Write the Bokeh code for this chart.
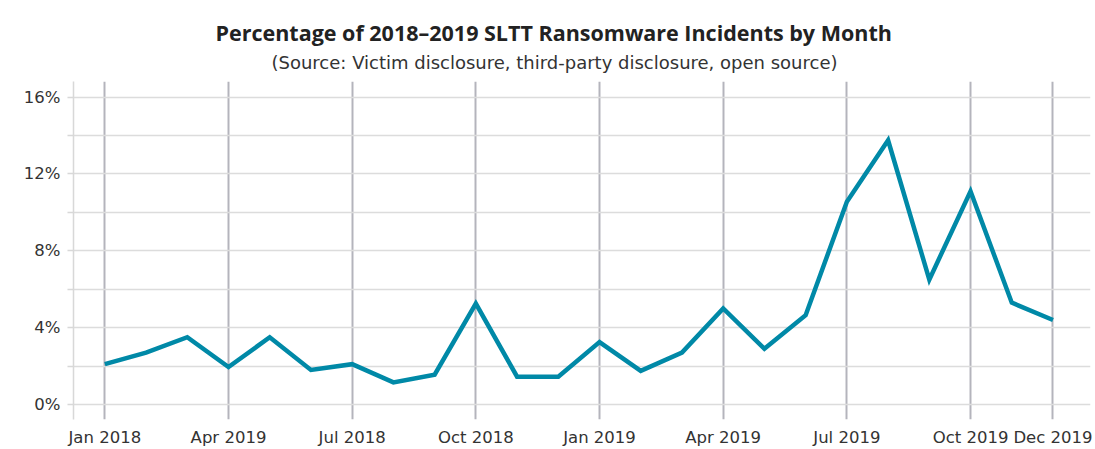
from bokeh.plotting import figure
from bokeh.models import FixedTicker, PrintfTickFormatter, Range1d, Title
from bokeh.embed import file_html
from bokeh.resources import INLINE

# ---- data ----
months = ["Jan 2018", "Feb 2018", "Mar 2018", "Apr 2018", "May 2018", "Jun 2018",
          "Jul 2018", "Aug 2018", "Sep 2018", "Oct 2018", "Nov 2018", "Dec 2018",
          "Jan 2019", "Feb 2019", "Mar 2019", "Apr 2019", "May 2019", "Jun 2019",
          "Jul 2019", "Aug 2019", "Sep 2019", "Oct 2019", "Nov 2019", "Dec 2019"]
pct = [2.1, 2.7, 3.5, 1.95, 3.5, 1.8, 2.1, 1.15, 1.55, 5.25, 1.45, 1.45,
       3.25, 1.75, 2.7, 5.0, 2.9, 4.65, 10.55, 13.75, 6.5, 11.1, 5.3, 4.4]
tick_idx = [0, 3, 6, 9, 12, 15, 18, 21, 23]
tick_labels = ["Jan 2018", "Apr 2019", "Jul 2018", "Oct 2018", "Jan 2019",
               "Apr 2019", "Jul 2019", "Oct 2019", "Dec 2019"]
y_major = [0, 4, 8, 12, 16]
y_minor = [2, 6, 10, 14]

title_text = "Percentage of 2018\u20132019 SLTT Ransomware Incidents by Month"
subtitle_text = "(Source: Victim disclosure, third-party disclosure, open source)"

TFONT = "Open Sans"
LFONT = "DejaVu Sans"
x = list(range(len(months)))

p = figure(width=1095, height=449, output_backend="svg", toolbar_location=None,
           x_range=Range1d(-0.76, 23.91), y_range=Range1d(-0.78, 16.81),
           min_border_left=73, min_border_right=5, min_border_top=81,
           min_border_bottom=29, background_fill_color="white",
           border_fill_color="white", outline_line_color=None)

p.add_layout(Title(text=subtitle_text, align="left", text_font=LFONT,
                   text_font_size="18px", text_font_style="normal",
                   text_color="#333333", standoff=17, offset=198), "above")
p.add_layout(Title(text=title_text, align="left", text_font=TFONT,
                   text_font_size="21.5px", text_font_style="bold",
                   text_color="#222222", standoff=-11, offset=142), "above")

p.line(x, pct, line_color="#0089a7", line_width=4.5, line_join="miter")

# x axis
p.xaxis.ticker = FixedTicker(ticks=tick_idx)
p.xaxis.major_label_overrides = {i: l for i, l in zip(tick_idx, tick_labels)}
p.xaxis.axis_line_color = None
p.xaxis.major_tick_line_color = None
p.xaxis.minor_tick_line_color = None
p.xaxis.major_tick_out = 0
p.xaxis.major_tick_in = 0
p.xaxis.minor_tick_out = 0
p.xaxis.minor_tick_in = 0
p.xaxis.major_label_standoff = 8
p.xaxis.major_label_text_font = LFONT
p.xaxis.major_label_text_font_size = "16.5px"
p.xaxis.major_label_text_color = "#333333"

p.xgrid.ticker = FixedTicker(ticks=tick_idx)
p.xgrid.grid_line_color = "#b4b4bc"
p.xgrid.grid_line_width = 2

# y axis
p.yaxis.ticker = FixedTicker(ticks=y_major, minor_ticks=y_minor)
p.yaxis.formatter = PrintfTickFormatter(format="%d%%")
p.yaxis.axis_line_color = "#d8d8d8"
p.yaxis.axis_line_width = 1.5
p.yaxis.major_tick_line_color = "#d8d8d8"
p.yaxis.minor_tick_line_color = "#d8d8d8"
p.yaxis.major_tick_line_width = 1.5
p.yaxis.minor_tick_line_width = 1.5
p.yaxis.major_tick_out = 6
p.yaxis.major_tick_in = 0
p.yaxis.minor_tick_out = 6
p.yaxis.minor_tick_in = 0
p.yaxis.major_label_standoff = 7
p.yaxis.major_label_text_font = LFONT
p.yaxis.major_label_text_font_size = "16.5px"
p.yaxis.major_label_text_color = "#333333"

p.ygrid.grid_line_color = "#dcdcdc"
p.ygrid.grid_line_width = 1.5
p.ygrid.minor_grid_line_color = "#dcdcdc"
p.ygrid.minor_grid_line_width = 1.5

open("out.html", "w").write(file_html(p, INLINE))
